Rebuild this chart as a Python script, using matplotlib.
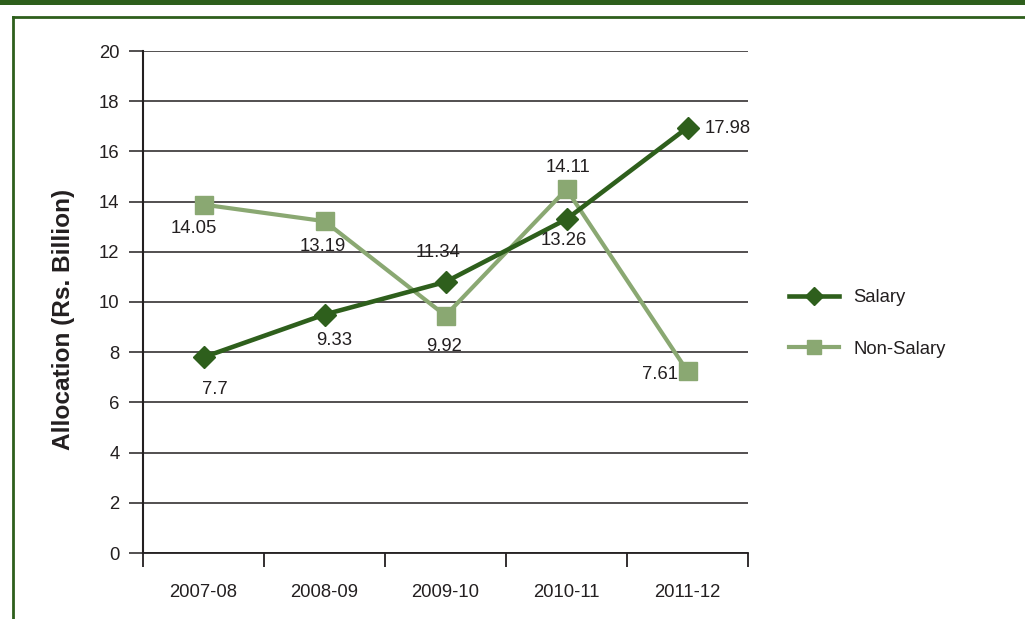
"""
Salary vs non-salary allocation line chart
"""
import matplotlib
matplotlib.use('Agg')
import matplotlib.pyplot as plt
from matplotlib.lines import Line2D
from matplotlib.patches import Rectangle

# ======================================================================================================================
# Data (plotted positions, labels as printed)
YEARS = ['2007-08', '2008-09', '2009-10', '2010-11', '2011-12']
SALARY = [7.8, 9.5, 10.8, 13.3, 16.95]
SALARY_LABELS = ['7.7', '9.33', '11.34', '13.26', '17.98']
NON_SALARY = [13.88, 13.22, 9.46, 14.49, 7.24]
NON_SALARY_LABELS = ['14.05', '13.19', '9.92', '14.11', '7.61']
Y_TICKS = [0, 2, 4, 6, 8, 10, 12, 14, 16, 18, 20]

# Styles
DARK_GREEN = '#2e5f1c'
LIGHT_GREEN = '#8aa872'
INK = '#231f20'
FONT = ['Liberation Sans', 'DejaVu Sans']
FS = 13.3

# label offsets in points: (dx, dy, ha)
SALARY_OFFSETS = [(8, -23, 'center'), (7, -19, 'center'), (-5, 21, 'center'), (-2, -15, 'center'), (12, -1, 'left')]
NON_SALARY_OFFSETS = [(-7, -17, 'center'), (-1, -18, 'center'), (-1, -22, 'center'), (1, 16, 'center'), (-7, -2, 'right')]

plt.rcParams['font.family'] = FONT

# ======================================================================================================================
fig = plt.figure(figsize=(10.25, 6.19), dpi=100)
ax = fig.add_axes([143 / 1025, 1 - 553 / 619, 605 / 1025, 502 / 619])

# page frame
fig.patches.append(Rectangle((0, 1 - 4.5 / 619), 1, 4.5 / 619, transform=fig.transFigure,
                             facecolor=DARK_GREEN, edgecolor='none'))
fig.lines.append(Line2D([12.5 / 1025, 1], [1 - 16.5 / 619, 1 - 16.5 / 619], transform=fig.transFigure,
                        color=DARK_GREEN, linewidth=2.0))
fig.lines.append(Line2D([12.5 / 1025, 12.5 / 1025], [0, 1 - 16.5 / 619], transform=fig.transFigure,
                        color=DARK_GREEN, linewidth=2.0))

x = list(range(len(YEARS)))

ax.plot(x, NON_SALARY, color=LIGHT_GREEN, linewidth=3.0, marker='s', markersize=13,
        label='Non-Salary', zorder=3)
ax.plot(x, SALARY, color=DARK_GREEN, linewidth=3.3, marker='D', markersize=11.5,
        label='Salary', zorder=4)

for xi, yi, txt, (dx, dy, ha) in zip(x, SALARY, SALARY_LABELS, SALARY_OFFSETS):
    ax.annotate(txt, (xi, yi), xytext=(dx, dy), textcoords='offset points',
                ha=ha, va='center', fontsize=FS, color=INK, zorder=5)
for xi, yi, txt, (dx, dy, ha) in zip(x, NON_SALARY, NON_SALARY_LABELS, NON_SALARY_OFFSETS):
    ax.annotate(txt, (xi, yi), xytext=(dx, dy), textcoords='offset points',
                ha=ha, va='center', fontsize=FS, color=INK, zorder=5)

# axes
ax.set_xlim(-0.5, len(YEARS) - 0.5)
ax.set_ylim(0, 20)
ax.set_yticks(Y_TICKS)
ax.yaxis.grid(True, color=INK, linewidth=1.1)
ax.set_axisbelow(True)
ax.tick_params(axis='y', length=10, width=1.1, color=INK, labelsize=FS, labelcolor=INK, pad=7)

ax.set_xticks([i - 0.5 for i in range(len(YEARS) + 1)])
ax.set_xticklabels([])
ax.set_xticks(x, minor=True)
ax.set_xticklabels(YEARS, minor=True)
ax.tick_params(axis='x', which='major', length=10, width=1.3, color=INK, direction='out')
ax.tick_params(axis='x', which='minor', length=0, labelsize=FS, labelcolor=INK, pad=22)

for side in ['top', 'right']:
    ax.spines[side].set_visible(False)
ax.spines['left'].set_linewidth(1.5)
ax.spines['left'].set_color(INK)
ax.spines['bottom'].set_linewidth(1.3)
ax.spines['bottom'].set_color(INK)

ax.set_ylabel('Allocation (Rs. Billion)', fontsize=17.6, fontweight='bold', color=INK)
ax.yaxis.set_label_coords((75 - 143) / 605, (553 - 319.5) / 502)

handles, labels = ax.get_legend_handles_labels()
leg = ax.legend(handles[::-1], labels[::-1], loc='center left',
                bbox_to_anchor=(789 / 1025, 1 - 323.5 / 619), bbox_transform=fig.transFigure,
                frameon=False, fontsize=FS, handlelength=2.7, handletextpad=0.8,
                labelspacing=1.85, borderpad=0, borderaxespad=0, markerscale=0.8)
for t in leg.get_texts():
    t.set_color(INK)

fig.savefig('out.png', dpi=100)
